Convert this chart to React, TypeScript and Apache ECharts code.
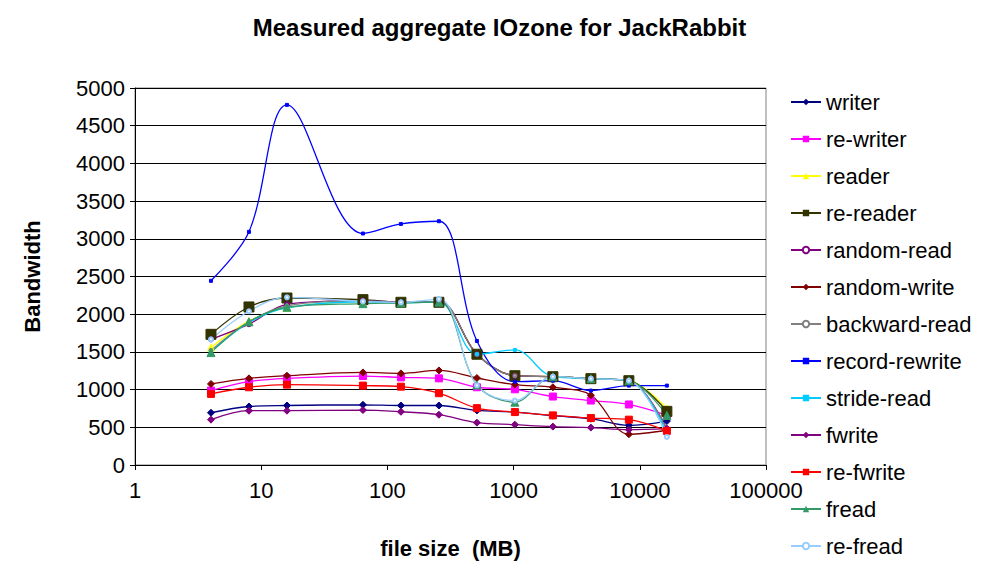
import { useEffect, useRef } from 'react';
import * as echarts from 'echarts';

const fileSizes = [4, 8, 16, 64, 128, 256, 512, 1024, 2048, 4096, 8192, 16384];

const writer = [693, 776, 789, 798, 789, 789, 724, 702, 654, 614, 526, 583];
const reWriter = [987, 1105, 1149, 1180, 1162, 1149, 1031, 1004, 908, 855, 803, 658];
const reader = [1557, 1908, 2083, 2170, 2158, 2160, 1469, 1184, 1171, 1145, 1118, 750];
const reReader = [1733, 2096, 2215, 2193, 2158, 2158, 1469, 1184, 1171, 1145, 1118, 711];
const randomRead = [1667, 1868, 2131, 2180, 2158, 2165, 1469, 1184, 1171, 1145, 1118, 482];
const randomWrite = [1075, 1149, 1184, 1228, 1215, 1254, 1154, 1066, 1031, 925, 408, 461];
const backwardRead = [1520, 1900, 2110, 2175, 2158, 2165, 1469, 1184, 1171, 1145, 1118, 470];
const recordRewrite = [2443, 3092, 4776, 3070, 3197, 3233, 1645, 1105, 1118, 987, 1053, 1053];
const strideRead = [1500, 1890, 2085, 2165, 2150, 2160, 1469, 1526, 1171, 1145, 1118, 421];
const fwrite = [601, 720, 720, 728, 706, 667, 562, 535, 509, 496, 469, 482];
const reFwrite = [943, 1031, 1066, 1053, 1039, 952, 754, 702, 658, 623, 601, 452];
const fread = [1491, 1899, 2092, 2140, 2150, 2160, 1061, 833, 1171, 1145, 1118, 658];
const reFread = [1667, 2039, 2224, 2170, 2158, 2200, 1055, 855, 1171, 1145, 1118, 372];

const seriesDefs: [string, number[], string, string, number][] = [
  ['writer', writer, '#000080', 'diamond', 7],
  ['re-writer', reWriter, '#ff00ff', 'rect', 7],
  ['reader', reader, '#ffff00', 'triangle', 7],
  ['re-reader', reReader, '#333300', 'rect', 10],
  ['random-read', randomRead, '#800080', 'emptyCircle', 4],
  ['random-write', randomWrite, '#800000', 'diamond', 7],
  ['backward-read', backwardRead, '#808080', 'emptyCircle', 3],
  ['record-rewrite', recordRewrite, '#0000ff', 'rect', 3],
  ['stride-read', strideRead, '#00ccff', 'rect', 3],
  ['fwrite', fwrite, '#800080', 'diamond', 7],
  ['re-fwrite', reFwrite, '#ff0000', 'rect', 7],
  ['fread', fread, '#339966', 'triangle', 8],
  ['re-fread', reFread, '#99ccff', 'emptyCircle', 4],
];

export default function App() {
  const ref = useRef<HTMLDivElement>(null);

  useEffect(() => {
    if (!ref.current) return;
    const chart = echarts.init(ref.current, undefined, { renderer: 'svg' });
    const font = 'Liberation Sans, Arial, sans-serif';
    chart.setOption({
      animation: false,
      backgroundColor: '#fff',
      title: {
        text: 'Measured aggregate IOzone for JackRabbit',
        left: 'center',
        top: 2,
        textStyle: { fontFamily: font, fontSize: 24, fontWeight: 'bold', color: '#000' },
      },
      grid: { left: 127, right: 225, top: 80, bottom: 100, show: true, borderColor: '#808080', borderWidth: 1 },
      legend: {
        orient: 'vertical',
        left: 777,
        top: 78,
        itemGap: 15,
        itemWidth: 30,
        itemHeight: 8,
        textStyle: { fontFamily: font, fontSize: 22, color: '#000' },
        data: seriesDefs.map((d) => d[0]),
      },
      xAxis: {
        type: 'log',
        logBase: 10,
        min: 1,
        max: 100000,
        name: 'file size  (MB)',
        nameLocation: 'middle',
        nameGap: 72,
        nameTextStyle: { fontFamily: font, fontSize: 22, fontWeight: 'bold', color: '#000' },
        axisLine: { lineStyle: { color: '#000' } },
        axisTick: { show: true, inside: false, length: 5, lineStyle: { color: '#000' } },
        axisLabel: { fontFamily: font, fontSize: 22, color: '#000', margin: 14, formatter: (v: number) => String(v) },
        splitLine: { show: false },
      },
      yAxis: {
        type: 'value',
        min: 0,
        max: 5000,
        interval: 500,
        name: 'Bandwidth',
        nameLocation: 'middle',
        nameGap: 92,
        nameTextStyle: { fontFamily: font, fontSize: 22, fontWeight: 'bold', color: '#000' },
        axisLine: { show: true, lineStyle: { color: '#000' } },
        axisTick: { show: true, length: 5, lineStyle: { color: '#000' } },
        axisLabel: { fontFamily: font, fontSize: 22, color: '#000', margin: 10, formatter: (v: number) => String(v) },
        splitLine: { lineStyle: { color: '#000', width: 1 } },
      },
      series: seriesDefs.map(([name, vals, color, symbol, size]) => ({
        name,
        type: 'line',
        smooth: 0.35,
        data: fileSizes.map((x, i) => [x, vals[i]]),
        symbol,
        symbolSize: size,
        itemStyle: { color, borderColor: color },
        lineStyle: { color, width: 1.3 },
      })),
    });
    return () => chart.dispose();
  }, []);

  return <div ref={ref} style={{ width: 983, height: 557 }} />;
}
